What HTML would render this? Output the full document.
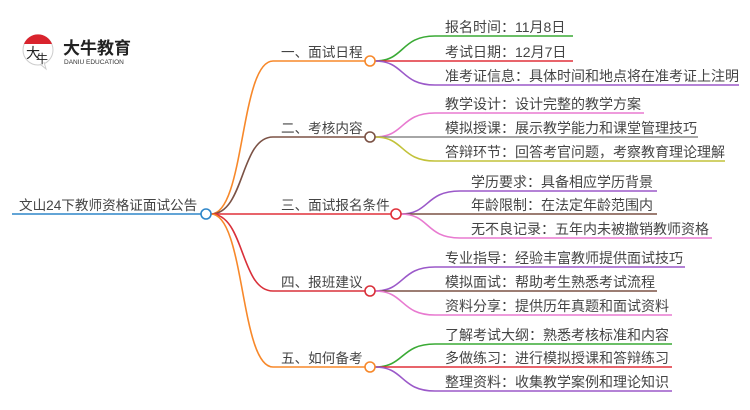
<!DOCTYPE html>
<html><head><meta charset="utf-8"><style>
html,body{margin:0;padding:0;background:#fff;width:750px;height:410px;overflow:hidden}
svg text{font-family:"Liberation Sans","Noto Sans CJK SC",sans-serif;fill:#444}
</style></head><body>
<svg width="750" height="410" viewBox="0 0 750 410" xmlns="http://www.w3.org/2000/svg">
<g>
<circle cx="38" cy="50" r="15" fill="#fff" stroke="#ccc" stroke-width="1"/>
<path d="M24,44 A15,15 0 0 1 52,44 Z" fill="#d9232d"/>
<path d="M40,64 L46,69 L44,62" fill="#fff" stroke="#ccc" stroke-width="1"/>
<text x="26" y="58" font-size="14" style="fill:#222">大</text>
<text x="36" y="63" font-size="12" style="fill:#222">牛</text>
<text x="63" y="54" font-size="17" font-weight="bold" style="fill:#222">大牛教育</text>
<text x="64" y="64" font-size="6.5" style="fill:#333">DANIU EDUCATION</text>
</g>
<g fill="none" stroke-width="1.6">
<line x1="12" y1="214" x2="201" y2="214" stroke="#2e86c9"/>
<path d="M211,214 C245,214 240,61 273,61 L365,61" stroke="#f7882a"/>
<path d="M211,214 C245,214 240,137 273,137 L365,137" stroke="#7b5245"/>
<path d="M211,214 L391,214" stroke="#e0303a"/>
<path d="M211,214 C245,214 240,291 273,291 L365,291" stroke="#d9303a"/>
<path d="M211,214 C245,214 240,367 273,367 L365,367" stroke="#f7882a"/>
<path d="M375,61 C405,61 400,36 435,36 L573,36" stroke="#3aaa35"/>
<path d="M375,61 L573,61" stroke="#e0303a"/>
<path d="M375,61 C405,61 400,85 435,85 L739,85" stroke="#9b59c9"/>
<path d="M375,137 C405,137 400,113 435,113 L644,113" stroke="#e87ad0"/>
<path d="M375,137 L698,137" stroke="#888"/>
<path d="M375,137 C405,137 400,161 435,161 L725,161" stroke="#c2c23a"/>
<path d="M401,214 C430,214 425,191 460,191 L657,191" stroke="#9b59c9"/>
<path d="M401,214 L657,214" stroke="#7b5245"/>
<path d="M401,214 C430,214 425,238 460,238 L712,238" stroke="#e87ad0"/>
<path d="M375,291 C405,291 400,267 435,267 L685,267" stroke="#9b59c9"/>
<path d="M375,291 L657,291" stroke="#7b5245"/>
<path d="M375,291 C405,291 400,315 435,315 L672,315" stroke="#e87ad0"/>
<path d="M375,367 C405,367 400,344 435,344 L672,344" stroke="#3aaa35"/>
<path d="M375,367 L672,367" stroke="#e0303a"/>
<path d="M375,367 C405,367 400,391 435,391 L672,391" stroke="#9b59c9"/>
</g>
<g fill="#fff" stroke-width="1.6">
<circle cx="206" cy="214" r="5" stroke="#2e86c9"/>
<circle cx="370" cy="61" r="5" stroke="#f7882a"/>
<circle cx="370" cy="137" r="5" stroke="#7b5245"/>
<circle cx="396" cy="214" r="5" stroke="#e0303a"/>
<circle cx="370" cy="291" r="5" stroke="#d9303a"/>
<circle cx="370" cy="367" r="5" stroke="#f7882a"/>
</g>
<g font-size="13.6">
<text x="19" y="210">文山24下教师资格证面试公告</text>
<text x="281" y="57">一、面试日程</text>
<text x="281" y="133">二、考核内容</text>
<text x="281" y="210">三、面试报名条件</text>
<text x="281" y="287">四、报班建议</text>
<text x="281" y="363">五、如何备考</text>
</g>
<g font-size="14">
<text x="445" y="32">报名时间：11月8日</text>
<text x="445" y="57">考试日期：12月7日</text>
<text x="445" y="81">准考证信息：具体时间和地点将在准考证上注明</text>
<text x="445" y="109">教学设计：设计完整的教学方案</text>
<text x="445" y="133">模拟授课：展示教学能力和课堂管理技巧</text>
<text x="445" y="157">答辩环节：回答考官问题，考察教育理论理解</text>
<text x="471" y="187">学历要求：具备相应学历背景</text>
<text x="471" y="210">年龄限制：在法定年龄范围内</text>
<text x="471" y="234">无不良记录：五年内未被撤销教师资格</text>
<text x="445" y="263">专业指导：经验丰富教师提供面试技巧</text>
<text x="445" y="287">模拟面试：帮助考生熟悉考试流程</text>
<text x="445" y="311">资料分享：提供历年真题和面试资料</text>
<text x="445" y="340">了解考试大纲：熟悉考核标准和内容</text>
<text x="445" y="363">多做练习：进行模拟授课和答辩练习</text>
<text x="445" y="387">整理资料：收集教学案例和理论知识</text>
</g>
</svg>
</body></html>
